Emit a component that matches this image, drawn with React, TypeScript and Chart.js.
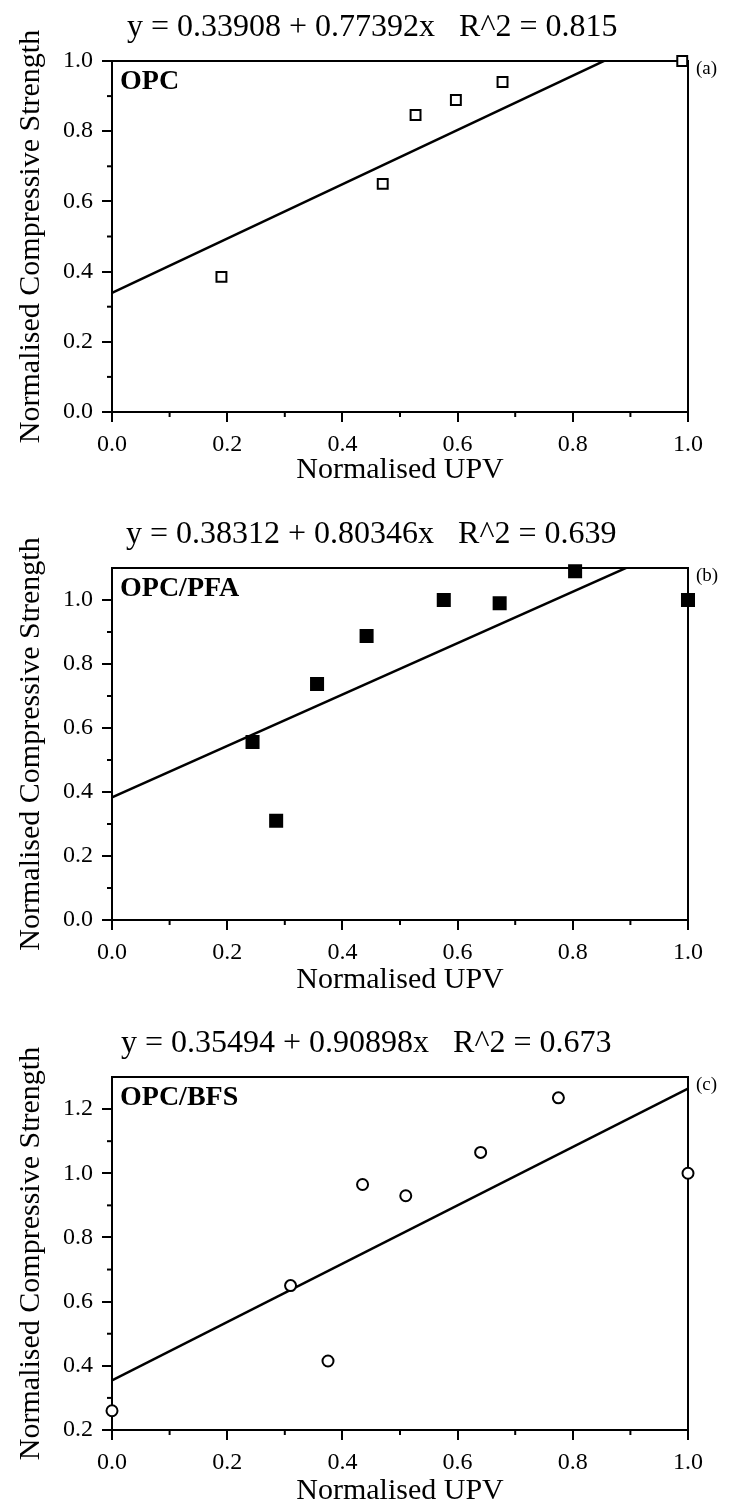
import React, { useEffect, useRef } from "react";
import { Chart, registerables } from "chart.js";

Chart.register(...registerables);

// ---- data ----
const xTickValues = [0, 0.2, 0.4, 0.6, 0.8, 1.0];

const opcX = [0.19, 0.47, 0.527, 0.597, 0.678, 0.99];
const opcY = [0.385, 0.65, 0.846, 0.889, 0.94, 1.0];

const pfaX = [0.244, 0.285, 0.356, 0.442, 0.576, 0.673, 0.804, 1.0];
const pfaY = [0.556, 0.31, 0.7375, 0.8875, 1.0, 0.99, 1.09, 1.0];

const bfsX = [0.0, 0.31, 0.375, 0.435, 0.51, 0.64, 0.775, 1.0];
const bfsY = [0.26, 0.65, 0.415, 0.965, 0.93, 1.065, 1.235, 1.0];

const fitIntercept = ["0.33908", "0.38312", "0.35494"];
const fitSlope = ["0.77392", "0.80346", "0.90898"];
const fitR2 = ["0.815", "0.639", "0.673"];

const panelNames = ["OPC", "OPC/PFA", "OPC/BFS"];
const panelTags = ["(a)", "(b)", "(c)"];
const yMins = [0, 0, 0.2];
const yMaxs = [1.0, 1.1, 1.3];

const xTitle = "Normalised UPV";
const yTitle = "Normalised Compressive Strength";

const SERIF = "'Liberation Serif', 'Times New Roman', serif";
const W = 734;

// layout per panel: canvas top, canvas height, plot top, plot bottom (canvas coords)
const panelTop = [0, 490, 1000];
const panelHeight = [490, 510, 511];
const plotTop = [61, 78, 77];
const plotBottom = [412, 430, 430];
const titleLeft = [127, 126, 121];
const PLOT_LEFT = 112;
const PLOT_RIGHT = 688;

const decoPlugin = (idx: number) => ({
  id: "deco" + idx,
  beforeDatasetsDraw(chart: any) {
    const { ctx, chartArea } = chart;
    const xs = chart.scales.x;
    const ys = chart.scales.y;
    ctx.save();
    ctx.strokeStyle = "#000";
    ctx.lineWidth = 2;
    ctx.beginPath();
    ctx.moveTo(chartArea.left, chartArea.top);
    ctx.lineTo(chartArea.right, chartArea.top);
    ctx.lineTo(chartArea.right, chartArea.bottom);
    ctx.stroke();
    // minor ticks
    for (let i = 1; i < 10; i += 2) {
      const px = xs.getPixelForValue(i / 10);
      ctx.beginPath();
      ctx.moveTo(px, chartArea.bottom);
      ctx.lineTo(px, chartArea.bottom + 5);
      ctx.stroke();
    }
    for (let i = 1; i < 14; i += 2) {
      const v = i / 10;
      if (v <= yMins[idx] || v >= yMaxs[idx] - 0.001) continue;
      const py = ys.getPixelForValue(v);
      ctx.beginPath();
      ctx.moveTo(chartArea.left, py);
      ctx.lineTo(chartArea.left - 5, py);
      ctx.stroke();
    }
    ctx.restore();
  },
  afterDraw(chart: any) {
    const { ctx, chartArea } = chart;
    ctx.save();
    ctx.fillStyle = "#000";
    ctx.textBaseline = "middle";
    ctx.textAlign = "left";
    ctx.font = `32px ${SERIF}`;
    const eq = `y = ${fitIntercept[idx]} + ${fitSlope[idx]}x   R^2 = ${fitR2[idx]}`;
    ctx.fillText(eq, titleLeft[idx], chartArea.top - 33);
    ctx.font = `bold 28px ${SERIF}`;
    ctx.fillText(panelNames[idx], chartArea.left + 8, chartArea.top + 21);
    ctx.font = `19px ${SERIF}`;
    ctx.fillText(panelTags[idx], chartArea.right + 8, chartArea.top + 8);
    ctx.restore();
  },
});

function makeConfig(idx: number) {
  const xsArr = [opcX, pfaX, bfsX][idx];
  const ysArr = [opcY, pfaY, bfsY][idx];
  const pts = xsArr.map((x, i) => ({ x, y: ysArr[i] }));
  const a = parseFloat(fitIntercept[idx]);
  const b = parseFloat(fitSlope[idx]);
  const linePts = [0, 1].map((x) => ({ x, y: a + b * x }));
  const H = panelHeight[idx];
  const style = ["rect", "rect", "circle"][idx];
  const radius = [7, 8.5, 5.5][idx];
  const fill = idx === 1 ? "#000" : "#fff";
  return {
    type: "scatter",
    data: {
      datasets: [
        {
          type: "line",
          data: linePts,
          borderColor: "#000",
          borderWidth: 2.5,
          pointRadius: 0,
          fill: false,
          order: 2,
        },
        {
          data: pts,
          pointStyle: style,
          pointRadius: radius,
          pointBorderWidth: 2,
          borderColor: "#000",
          backgroundColor: fill,
          showLine: false,
          clip: false,
          order: 1,
        },
      ],
    },
    options: {
      animation: false,
      responsive: false,
      events: [],
      layout: {
        padding: { top: plotTop[idx], right: W - PLOT_RIGHT, bottom: 0, left: 0 },
      },
      plugins: {
        legend: { display: false },
        tooltip: { enabled: false },
        title: { display: false },
      },
      scales: {
        x: {
          type: "linear",
          min: 0,
          max: 1,
          afterFit(s: any) {
            s.height = H - plotBottom[idx];
          },
          afterBuildTicks(s: any) {
            s.ticks = xTickValues.map((v) => ({ value: v }));
          },
          ticks: {
            callback: (v: any) => Number(v).toFixed(1),
            font: { family: SERIF, size: 24 },
            color: "#000",
            padding: 8,
            autoSkip: false,
            maxRotation: 0,
          },
          grid: {
            display: true,
            drawOnChartArea: false,
            drawTicks: true,
            tickLength: 10,
            color: "#000",
            lineWidth: 2,
          },
          border: { display: true, color: "#000", width: 2 },
          title: {
            display: true,
            text: xTitle,
            font: { family: SERIF, size: 30 },
            color: "#000",
            padding: { top: 0, bottom: 2 },
          },
        },
        y: {
          type: "linear",
          min: yMins[idx],
          max: yMaxs[idx],
          afterFit(s: any) {
            s.width = PLOT_LEFT;
          },
          ticks: {
            stepSize: 0.2,
            includeBounds: false,
            callback: (v: any) => Number(v).toFixed(1),
            font: { family: SERIF, size: 24 },
            color: "#000",
            padding: 9,
          },
          grid: {
            display: true,
            drawOnChartArea: false,
            drawTicks: true,
            tickLength: 10,
            color: "#000",
            lineWidth: 2,
          },
          border: { display: true, color: "#000", width: 2 },
          title: {
            display: true,
            text: yTitle,
            font: { family: SERIF, size: 30 },
            color: "#000",
            padding: { top: 13, bottom: 0 },
          },
        },
      },
    },
    plugins: [decoPlugin(idx)],
  } as any;
}

function Panel({ idx }: { idx: number }) {
  const ref = useRef<HTMLCanvasElement>(null);
  useEffect(() => {
    const chart = new Chart(ref.current as HTMLCanvasElement, makeConfig(idx));
    return () => chart.destroy();
  }, [idx]);
  return (
    <div
      style={{
        position: "absolute",
        left: 0,
        top: panelTop[idx],
        width: W,
        height: panelHeight[idx],
      }}
    >
      <canvas
        ref={ref}
        width={W}
        height={panelHeight[idx]}
        style={{ display: "block", width: W, height: panelHeight[idx] }}
      />
    </div>
  );
}

export default function App() {
  return (
    <div
      style={{
        position: "absolute",
        left: 0,
        top: 0,
        width: W,
        height: 1511,
        background: "#fff",
        overflow: "hidden",
      }}
    >
      <Panel idx={0} />
      <Panel idx={1} />
      <Panel idx={2} />
    </div>
  );
}
